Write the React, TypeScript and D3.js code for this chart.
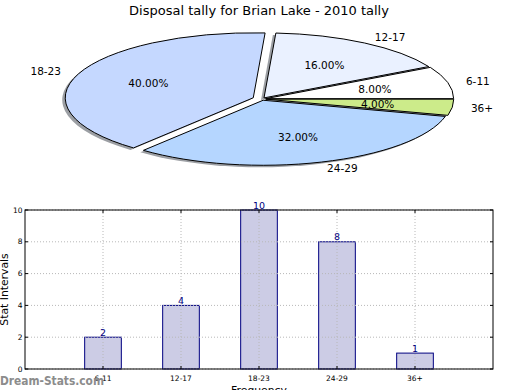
import React from "react";
import * as d3 from "d3";

const categories = ["6-11", "12-17", "18-23", "24-29", "36+"];
const counts = [2, 4, 10, 8, 1];
const explode = [0.02, 0.02, 0.05, 0.02, 0.02];
const sliceColors = ["#FFFFFF", "#EAF1FF", "#C5D8FF", "#B5D6FF", "#CCEB8A"];
const yTicks = [0, 2, 4, 6, 8, 10];
const title = "Disposal tally for Brian Lake - 2010 tally";

const FONT = "DejaVu Sans, sans-serif";

export default function App() {
  const W = 520, H = 390;
  // pie geometry
  const cx = 262, cy = 99, rx = 188, ry = 65;
  const total = d3.sum(counts);
  const pie = d3.pie<number>().sort(null).startAngle(0).endAngle(2 * Math.PI);
  const arcsData = pie(counts);
  const arc = d3.arc<any>().innerRadius(0).outerRadius(1);

  const slices = arcsData.map((a, i) => {
    // matplotlib angle (ccw from east) -> d3 arc angle (cw from north)
    const t0 = a.startAngle, t1 = a.endAngle;
    const mid = (t0 + t1) / 2;
    const ox = Math.cos(mid) * explode[i] * rx;
    const oy = -Math.sin(mid) * explode[i] * ry;
    const path = arc({ startAngle: Math.PI / 2 - t1, endAngle: Math.PI / 2 - t0 }) as string;
    const lx = cx + ox + 1.1 * rx * Math.cos(mid);
    const ly = cy + oy - 1.1 * ry * Math.sin(mid);
    const px = cx + ox + 0.6 * rx * Math.cos(mid);
    const py = cy + oy - 0.6 * ry * Math.sin(mid);
    return { i, path, ox, oy, lx, ly, px, py, anchor: Math.cos(mid) < 0 ? "end" : "start", pct: ((counts[i] / total) * 100).toFixed(2) + "%" };
  });

  // bar geometry
  const left = 25, right = 493, top = 210, bottom = 369;
  const x = d3.scaleLinear().domain([0, categories.length + 1]).range([left, right]);
  const y = d3.scaleLinear().domain([0, 10]).range([bottom, top]);
  const bw = 0.47;
  const gridStyle = { stroke: "#b8b8b8", strokeWidth: 1, strokeDasharray: "1,2" };

  return (
    <svg width={W} height={H} style={{ position: "absolute", left: 0, top: 0, background: "#fff" }} fontFamily={FONT}>
      <rect x={0} y={0} width={W} height={H} fill="#fff" />
      <text x={259} y={14.5} fontSize={13} textAnchor="middle" fill="#000">{title}</text>

      {/* shadows */}
      {slices.map((s) => (
        <path key={"sh" + s.i} d={s.path}
          transform={`translate(${cx + s.ox - 3},${cy + s.oy + 2}) scale(${rx},${ry})`}
          fill="#3a3f4a" fillOpacity={0.5} stroke="none" />
      ))}
      {/* slices */}
      {slices.map((s) => (
        <path key={"sl" + s.i} d={s.path}
          transform={`translate(${cx + s.ox},${cy + s.oy}) scale(${rx},${ry})`}
          fill={sliceColors[s.i]} stroke="#000" strokeWidth={1} vectorEffect="non-scaling-stroke" strokeLinejoin="round" />
      ))}
      {slices.map((s) => (
        <text key={"lb" + s.i} x={s.lx} y={s.ly} dy="0.35em" fontSize={10.5} textAnchor={s.anchor} fill="#000">{categories[s.i]}</text>
      ))}
      {slices.map((s) => (
        <text key={"pc" + s.i} x={s.px} y={s.py} dy="0.35em" fontSize={10.5} textAnchor="middle" fill="#000">{s.pct}</text>
      ))}

      {/* bar chart */}
      {counts.map((v, i) => (
        <rect key={"b" + i} x={x(i + 1 - bw / 2)} y={y(v)} width={x(bw) - x(0)} height={y(0) - y(v)}
          fill="#CCCCE5" stroke="#000080" strokeWidth={1} />
      ))}
      {yTicks.map((t) => (
        <line key={"gy" + t} x1={left} x2={right} y1={y(t)} y2={y(t)} {...gridStyle} />
      ))}
      {categories.map((c, i) => (
        <line key={"gx" + i} x1={x(i + 1)} x2={x(i + 1)} y1={top} y2={bottom} {...gridStyle} />
      ))}
      {counts.map((v, i) => (
        <text key={"v" + i} x={x(i + 1)} y={y(v) - 1.5} fontSize={9.5} textAnchor="middle" fill="#000080">{v}</text>
      ))}
      <rect x={left} y={top} width={right - left} height={bottom - top} fill="none" stroke="#000" strokeWidth={1} />
      {yTicks.map((t) => (
        <g key={"ty" + t}>
          <line x1={left} x2={left + 3} y1={y(t)} y2={y(t)} stroke="#000" />
          <line x1={right - 3} x2={right} y1={y(t)} y2={y(t)} stroke="#000" />
          <text x={left - 2.5} y={y(t)} dy="0.35em" fontSize={7.5} textAnchor="end" fill="#000">{t}</text>
        </g>
      ))}
      {categories.map((c, i) => (
        <g key={"tx" + i}>
          <line x1={x(i + 1)} x2={x(i + 1)} y1={bottom} y2={bottom - 3} stroke="#000" />
          <line x1={x(i + 1)} x2={x(i + 1)} y1={top} y2={top + 3} stroke="#000" />
          <text x={x(i + 1)} y={381} fontSize={7.5} textAnchor="middle" fill="#000">{c}</text>
        </g>
      ))}
      <text transform={`translate(7.5,${(top + bottom) / 2}) rotate(-90)`} fontSize={10.8} textAnchor="middle" fill="#000">Stat Intervals</text>
      <text x={(left + right) / 2} y={394} fontSize={10.8} textAnchor="middle" fill="#000">Frequency</text>
      <text x={0} y={385} fontSize={12} fill="#8c8c8c" fontWeight="bold" textLength={104} lengthAdjust="spacingAndGlyphs">Dream-Stats.com</text>
    </svg>
  );
}
